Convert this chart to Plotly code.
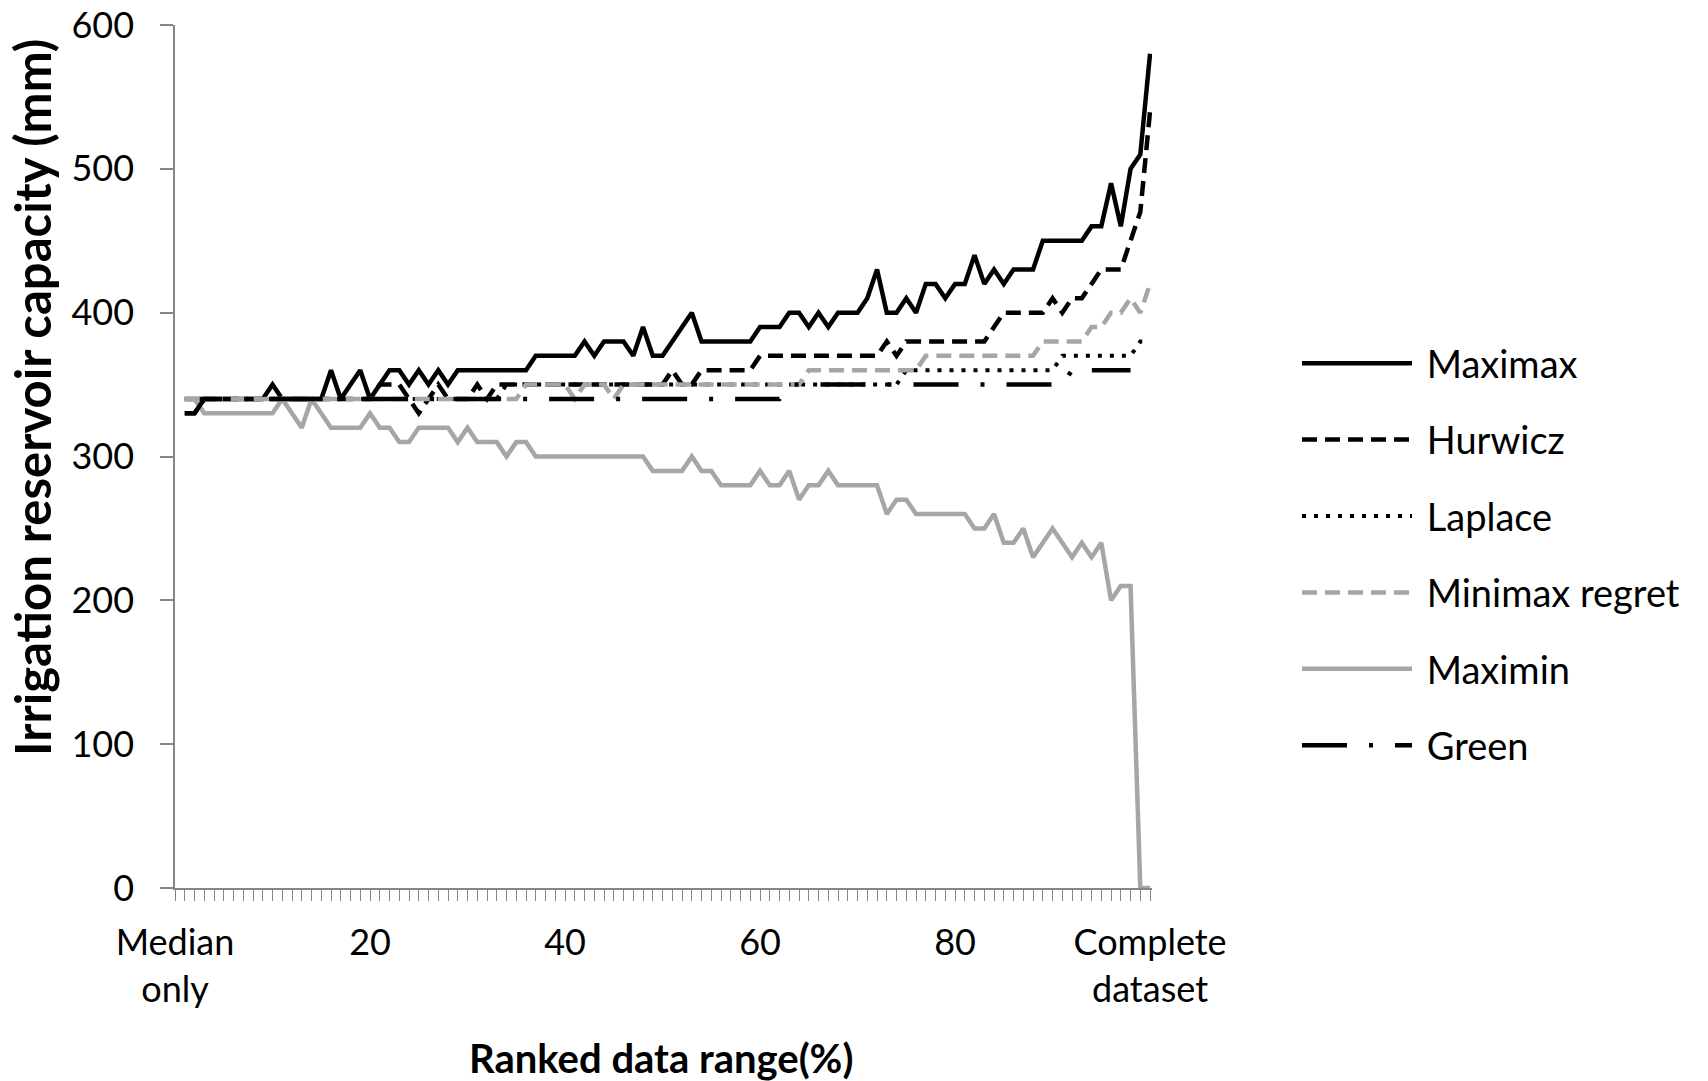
import plotly.graph_objects as go

# Ranked data range categories (1..100 %), 0 = "Median only" tick
ranked_range = list(range(1, 101))

tick_values = [0, 20, 40, 60, 80, 100]
tick_labels = ["Median<br>only", "20", "40", "60", "80", "Complete<br>dataset"]

maximax = [
    340, 340, 340, 340, 340, 340, 340, 340, 340, 350,
    340, 340, 340, 340, 340, 360, 340, 350, 360, 340,
    350, 360, 360, 350, 360, 350, 360, 350, 360, 360,
    360, 360, 360, 360, 360, 360, 370, 370, 370, 370,
    370, 380, 370, 380, 380, 380, 370, 390, 370, 370,
    380, 390, 400, 380, 380, 380, 380, 380, 380, 390,
    390, 390, 400, 400, 390, 400, 390, 400, 400, 400,
    410, 430, 400, 400, 410, 400, 420, 420, 410, 420,
    420, 440, 420, 430, 420, 430, 430, 430, 450, 450,
    450, 450, 450, 460, 460, 490, 460, 500, 510, 580,
]

hurwicz = [
    330, 330, 340, 340, 340, 340, 340, 340, 340, 340,
    340, 340, 340, 340, 340, 340, 340, 340, 340, 340,
    350, 350, 350, 340, 330, 340, 350, 340, 340, 340,
    350, 340, 350, 350, 350, 350, 350, 350, 350, 350,
    350, 350, 350, 350, 350, 350, 350, 350, 350, 350,
    360, 350, 350, 360, 360, 360, 360, 360, 360, 370,
    370, 370, 370, 370, 370, 370, 370, 370, 370, 370,
    370, 370, 380, 370, 380, 380, 380, 380, 380, 380,
    380, 380, 380, 390, 400, 400, 400, 400, 400, 410,
    400, 410, 410, 420, 430, 430, 430, 450, 470, 540,
]

laplace = [
    340, 340, 340, 340, 340, 340, 340, 340, 340, 340,
    340, 340, 340, 340, 340, 340, 340, 340, 340, 340,
    340, 340, 340, 340, 340, 340, 340, 340, 340, 340,
    340, 340, 340, 350, 350, 350, 350, 350, 350, 350,
    350, 350, 350, 350, 350, 350, 350, 350, 350, 350,
    350, 350, 350, 350, 350, 350, 350, 350, 350, 350,
    350, 350, 350, 350, 350, 350, 350, 350, 350, 350,
    350, 350, 350, 350, 360, 360, 360, 360, 360, 360,
    360, 360, 360, 360, 360, 360, 360, 360, 360, 360,
    370, 370, 370, 370, 370, 370, 370, 370, 380, 380,
]

minimax_regret = [
    340, 340, 340, 340, 340, 340, 340, 340, 340, 340,
    340, 340, 340, 340, 340, 340, 340, 340, 340, 340,
    340, 340, 340, 340, 340, 340, 340, 340, 340, 340,
    340, 340, 340, 340, 340, 350, 350, 350, 350, 350,
    340, 350, 350, 350, 340, 350, 350, 350, 350, 350,
    350, 350, 350, 350, 350, 350, 350, 350, 350, 350,
    350, 350, 350, 350, 360, 360, 360, 360, 360, 360,
    360, 360, 360, 360, 360, 360, 370, 370, 370, 370,
    370, 370, 370, 370, 370, 370, 370, 370, 380, 380,
    380, 380, 380, 390, 390, 400, 400, 410, 400, 420,
]

maximin = [
    340, 340, 330, 330, 330, 330, 330, 330, 330, 330,
    340, 330, 320, 340, 330, 320, 320, 320, 320, 330,
    320, 320, 310, 310, 320, 320, 320, 320, 310, 320,
    310, 310, 310, 300, 310, 310, 300, 300, 300, 300,
    300, 300, 300, 300, 300, 300, 300, 300, 290, 290,
    290, 290, 300, 290, 290, 280, 280, 280, 280, 290,
    280, 280, 290, 270, 280, 280, 290, 280, 280, 280,
    280, 280, 260, 270, 270, 260, 260, 260, 260, 260,
    260, 250, 250, 260, 240, 240, 250, 230, 240, 250,
    240, 230, 240, 230, 240, 200, 210, 210, 0, 0,
]

green = [
    330, 330, 340, 340, 340, 340, 340, 340, 340, 340,
    340, 340, 340, 340, 340, 340, 340, 340, 340, 340,
    340, 340, 340, 340, 340, 340, 340, 340, 340, 340,
    340, 340, 340, 340, 340, 340, 340, 340, 340, 340,
    340, 340, 340, 340, 340, 340, 340, 340, 340, 340,
    340, 340, 340, 340, 340, 340, 340, 340, 340, 340,
    340, 340, 350, 350, 350, 350, 350, 350, 350, 350,
    350, 350, 350, 350, 350, 350, 350, 350, 350, 350,
    350, 350, 350, 350, 350, 350, 350, 350, 350, 350,
    350, 360, 360, 360, 360, 360, 360, 360, None, None,
]

BLACK = "#000000"
GRAY = "#A6A6A6"
AXIS = "#868686"
FONT = "Lato"

series = [
    ("Maximax", maximax, BLACK, "solid", 4.5),
    ("Hurwicz", hurwicz, BLACK, "15px,8px", 4.5),
    ("Laplace", laplace, BLACK, "4px,8px", 4),
    ("Minimax regret", minimax_regret, GRAY, "15px,8px", 4.5),
    ("Maximin", maximin, GRAY, "solid", 4.5),
    ("Green", green, BLACK, "45px,22px,4px,22px", 4.5),
]

fig = go.Figure()
for name, vals, color, dash, width in series:
    fig.add_trace(go.Scatter(
        x=ranked_range, y=vals, name=" " + name, mode="lines",
        line=dict(color=color, dash=dash, width=width),
        legendgroup=name,
    ))

fig.update_layout(
    width=1708, height=1081,
    margin=dict(l=175, r=556, t=25, b=193, autoexpand=False),
    paper_bgcolor="white", plot_bgcolor="white",
    font=dict(family=FONT, color="#000000", size=36),
    showlegend=True,
    legend=dict(
        xref="container", yref="container",
        x=1297 / 1708, y=1 - 332 / 1081,
        xanchor="left", yanchor="top",
        font=dict(family=FONT, size=38, color="#000000"),
        itemwidth=110, tracegroupgap=24,
        bgcolor="rgba(0,0,0,0)",
    ),
    xaxis=dict(
        range=[0, 100.2], showgrid=False, zeroline=False, automargin=False,
        showline=True, linecolor=AXIS, linewidth=1.5,
        tickmode="array", tickvals=tick_values, ticktext=tick_labels,
        ticks="outside", ticklen=11, tickcolor=AXIS, tickwidth=1,
        minor=dict(tickmode="linear", tick0=0, dtick=1, ticks="outside",
                   ticklen=11, tickcolor=AXIS, tickwidth=1),
        tickfont=dict(family=FONT, size=36, color="#000000"),
        ticklabelstandoff=11,
    ),
    yaxis=dict(
        range=[0, 600], showgrid=False, zeroline=False, automargin=False,
        showline=True, linecolor=AXIS, linewidth=1.5,
        tickmode="array", tickvals=[0, 100, 200, 300, 400, 500, 600],
        ticks="outside", ticklen=13, tickcolor=AXIS, tickwidth=1.5,
        tickfont=dict(family=FONT, size=36, color="#000000"),
        ticklabelstandoff=19,
    ),
    annotations=[
        dict(text="<b>Irrigation reservoir capacity (mm)</b>",
             xref="paper", yref="paper", x=(32 - 175) / 977, y=(888 - 398) / 863,
             xanchor="center", yanchor="middle", textangle=-90, showarrow=False,
             font=dict(family=FONT, size=49, color="#000000")),
        dict(text="<b>Ranked data range(%)</b>",
             xref="paper", yref="paper", x=(661 - 175) / 977, y=(888 - 1058) / 863,
             xanchor="center", yanchor="middle", showarrow=False,
             font=dict(family=FONT, size=40, color="#000000")),
    ],
)

fig.write_html("out.html", config={"displayModeBar": False},
               post_script="document.body.style.margin='0';")
